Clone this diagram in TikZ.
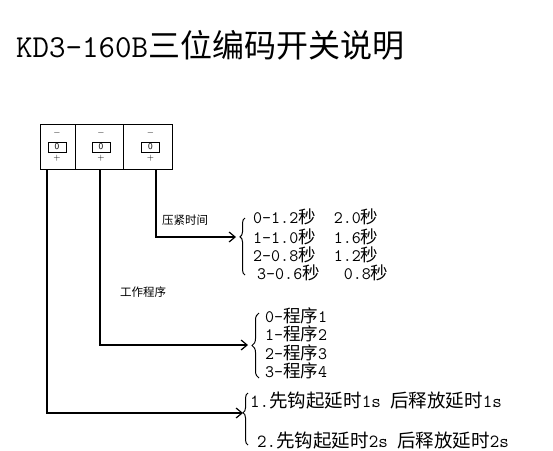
\documentclass[tikz,border=0pt]{standalone}
\usepackage{fontspec}
\newfontfamily\zhfont{Noto Sans CJK SC}
\newcommand\zh[1]{{\zhfont #1}}
\usetikzlibrary{arrows.meta,decorations.pathreplacing}
\begin{document}
\begin{tikzpicture}[x=1pt,y=-1pt,
  cell/.style={draw,line width=0.8pt,minimum height=45pt,inner sep=0pt},
  wire/.style={line width=1.5pt},
  arr/.style={wire,-{Straight Barb[length=6pt,width=10pt,line width=1.2pt]}},
  brc/.style={decorate,decoration={brace,amplitude=5pt},line width=1pt},
  lst/.style={anchor=west,inner sep=0pt,text height=13pt,text depth=0pt,font=\fontsize{17.5}{17.5}\selectfont\ttfamily},
  lstb/.style={anchor=west,inner sep=0pt,text height=14pt,text depth=0pt,font=\fontsize{18.5}{18.5}\selectfont\ttfamily},
  small/.style={anchor=west,inner sep=0pt,font=\fontsize{11.5}{11.5}\selectfont\zhfont},
  sw/.style={inner sep=0pt,font=\fontsize{9}{9}\selectfont\sffamily},
  swbox/.style={sw,draw,line width=0.6pt,minimum width=18pt,minimum height=10pt}]
\useasboundingbox (0,0) rectangle (553,450);
% title
\node[anchor=west,inner sep=0pt,font=\fontsize{32}{32}\selectfont\ttfamily] (title) at (16,45) {KD3-160B\zh{三位编码开关说明}};
% switch
\node[cell,minimum width=35pt] (s1) at (57.5,146.5) {};
\node[cell,minimum width=48pt] (s2) at (99,146.5) {};
\node[cell,minimum width=49pt] (s3) at (147.5,146.5) {};
\node[sw] (m1) at (57,133) {$-$};
\node[swbox] (k1) at (57,147) {0};
\node[sw] (p1) at (57,158) {+};
\node[sw] (m2) at (101,133) {$-$};
\node[swbox] (k2) at (101,147) {0};
\node[sw] (p2) at (101,158) {+};
\node[sw] (m3) at (150.5,133) {$-$};
\node[swbox] (k3) at (150.5,147) {0};
\node[sw] (p3) at (150.5,158) {+};
\coordinate (d1) at (47,169);
\coordinate (d2) at (100,169);
\coordinate (d3) at (156,169);
\coordinate (a1) at (236,237);
\coordinate (a2) at (248,345);
\coordinate (a3) at (243,413);
\draw[arr] (d3) |- (a1);
\draw[arr] (d2) |- (a2);
\draw[arr] (d1) |- (a3);
% labels
\node[small] (lab1) at (162,220) {压紧时间};
\node[small] (lab2) at (120,292) {工作程序};
% braces
\draw[brc,decoration={aspect=0.67}] (245,275) -- (245,218);
\draw[brc,decoration={aspect=0.5,amplitude=7pt}] (259,378) -- (259,313);
\draw[brc,decoration={aspect=0.62}] (248,445) -- (248,393);
% list 1
\node[lst] (t11) at (253,217) {0-1.2\zh{秒}\ \ 2.0\zh{秒}};
\node[lst] (t12) at (253,237) {1-1.0\zh{秒}\ \ 1.6\zh{秒}};
\node[lst] (t13) at (253,255) {2-0.8\zh{秒}\ \ 1.2\zh{秒}};
\node[lst] (t14) at (257,273) {3-0.6\zh{秒}\ \ \hspace{6pt}0.8\zh{秒}};
% list 2
\node[lst] (t21) at (265,316) {0-\zh{程序}1};
\node[lst] (t22) at (265,334) {1-\zh{程序}2};
\node[lst] (t23) at (265,352.5) {2-\zh{程序}3};
\node[lst] (t24) at (265,371) {3-\zh{程序}4};
% list 3
\node[lstb] (t31) at (250,400) {1.\zh{先钩起延时}1s\ \zh{后释放延时}1s};
\node[lstb] (t32) at (257,440) {2.\zh{先钩起延时}2s\ \zh{后释放延时}2s};
\end{tikzpicture}
\end{document}
